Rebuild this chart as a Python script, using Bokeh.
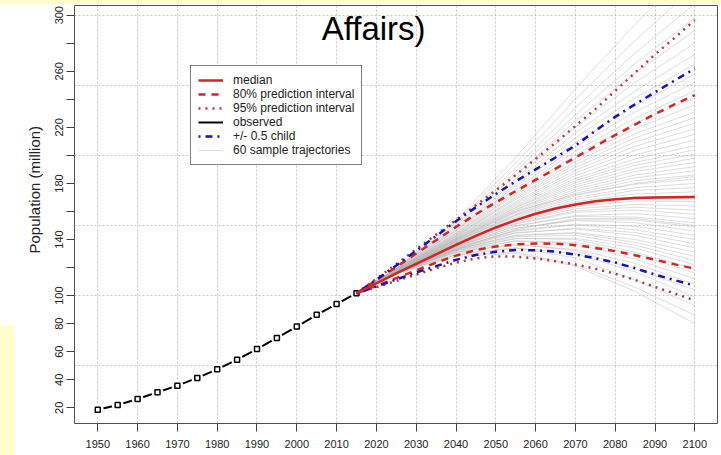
import math
from bokeh.plotting import figure
from bokeh.models import Range1d, FixedTicker, Label, Legend, LegendItem, Div, Title
from bokeh.layouts import column, row
from bokeh.embed import file_html
from bokeh.resources import INLINE

FONT = "Liberation Sans"

# ---------------- data ----------------
obs_years = [1950, 1955, 1960, 1965, 1970, 1975, 1980, 1985, 1990, 1995, 2000, 2005, 2010, 2015]
obs_pop = [18.6, 22.0, 26.3, 31.1, 35.8, 41.3, 47.4, 54.3, 61.9, 69.8, 77.9, 86.3, 94.0, 101.7]

proj_years = [2015, 2020, 2025, 2030, 2035, 2040, 2045, 2050, 2055, 2060,
              2065, 2070, 2075, 2080, 2085, 2090, 2095, 2100]
median = [101.7, 108.8, 115.8, 122.6, 129.4, 136.2, 142.6, 148.6, 153.8, 158.4,
          162.1, 165.0, 167.3, 168.8, 169.6, 170.0, 170.2, 170.3]
upper80 = [101.7, 111.0, 120.5, 130.0, 139.5, 149.0, 158.0, 166.5, 174.5, 182.5,
           190.5, 198.5, 206.5, 214.5, 222.0, 229.5, 236.5, 243.0]
lower80 = [101.7, 107.0, 112.5, 118.0, 123.5, 128.5, 132.5, 135.0, 136.5, 137.2,
           137.0, 136.0, 134.0, 131.7, 128.8, 125.6, 122.3, 119.2]
upper95 = [101.7, 112.0, 122.5, 133.0, 143.5, 154.0, 164.5, 175.0, 186.0, 197.5,
           209.0, 221.0, 233.0, 246.0, 259.0, 272.0, 284.0, 296.5]
lower95 = [101.7, 106.0, 110.5, 115.0, 119.5, 123.5, 126.5, 128.0, 127.8, 126.5,
           124.6, 122.2, 119.2, 115.6, 111.2, 106.2, 101.4, 96.5]
child_up = [101.7, 111.5, 121.5, 132.0, 142.5, 153.0, 163.0, 172.5, 181.5, 190.0,
            198.5, 207.0, 217.5, 227.5, 236.5, 245.0, 253.5, 262.0]
child_lo = [101.7, 106.5, 111.5, 116.5, 121.0, 125.5, 129.0, 131.3, 132.5, 132.4,
            131.3, 129.3, 126.7, 123.6, 119.5, 115.0, 111.0, 107.0]

# 60 sample trajectories (values at 2025, 2040, 2055, 2070, 2085, 2100; all start at 2015 observed)
traj_years = [2015, 2025, 2040, 2055, 2070, 2085, 2100]
traj_rows = [
    [115.5, 128, 130, 121, 103, 80],
    [116, 129, 131, 122, 106, 86],
    [115.5, 130, 134, 127, 111, 93],
    [116.5, 129, 134, 130, 117, 99],
    [116, 131, 137, 132, 119, 104],
    [117, 131, 136, 133, 123, 108],
    [116, 132, 139, 137, 126, 112],
    [116.5, 131, 139, 138, 130, 116],
    [116, 132, 141, 140, 131, 119],
    [117, 132.5, 140.5, 141, 134, 122],
    [116.5, 133, 142, 143, 136, 125],
    [116, 133, 143, 144.5, 138, 128],
    [117, 133, 143, 145, 140, 131],
    [116.5, 134, 145, 147.5, 143, 134],
    [117, 133.5, 144.5, 148, 145, 137],
    [116.5, 134.5, 146, 150.5, 147, 140],
    [117, 134, 146.5, 151, 149.5, 143],
    [116.5, 135, 148, 153.5, 152, 146],
    [117, 135, 148, 154, 154, 149],
    [116.5, 135.5, 149.5, 156.5, 156, 152],
    [117, 135, 150, 157, 158.5, 155],
    [117, 136, 151, 159.5, 161, 158],
    [117, 136, 151.5, 160.5, 163, 161],
    [117, 136.5, 152.5, 162, 165, 164],
    [117, 136.5, 153, 163.5, 167.5, 167],
    [117, 137, 154, 164.5, 169, 169],
    [117, 137, 154, 165.5, 170.5, 171],
    [117, 137.5, 155, 167, 172.5, 174],
    [117.5, 137.5, 156, 168.5, 175, 177],
    [117, 138, 157, 170, 177, 180],
    [117.5, 138.5, 157.5, 171.5, 179.5, 183],
    [117, 138.5, 158, 173, 182, 186],
    [117.5, 139, 159, 174.5, 184, 189],
    [117, 139, 160, 176, 186, 192],
    [117.5, 139.5, 161, 177.5, 188.5, 195],
    [117.5, 140, 161.5, 179, 190.5, 198],
    [117.5, 140, 162.5, 180.5, 193, 201],
    [118, 140.5, 163, 182, 195, 204],
    [117.5, 141, 164, 183.5, 197.5, 207],
    [118, 141, 165, 185.5, 200.5, 211],
    [117.5, 141.5, 166, 187.5, 203.5, 215],
    [118, 142, 167, 189.5, 206.5, 219],
    [118, 142.5, 168.5, 191.5, 209.5, 223],
    [118, 142.5, 169.5, 193.5, 212.5, 227],
    [118, 143, 170.5, 195.5, 215.5, 231],
    [118.5, 143.5, 172, 198, 219, 236],
    [118, 144, 173, 200.5, 223, 241],
    [118.5, 144.5, 174.5, 203, 226.5, 246],
    [118, 145, 176, 206, 231, 252],
    [118.5, 146, 178, 209, 235.5, 258],
    [118.5, 146.5, 179.5, 212.5, 241, 265],
    [118.5, 147, 181.5, 216, 246, 272],
    [119, 148, 183.5, 220, 252, 280],
    [119, 149, 186, 224.5, 259, 289],
    [119, 150, 188.5, 229, 265.5, 298],
    [119, 151, 191, 234, 273, 308],
    [119.5, 152, 194.5, 240, 282, 320],
    [119.5, 153.5, 198.5, 247.5, 293.5, 335],
    [116, 133, 147, 155, 155, 150],
    [118, 140, 160, 172, 180, 185],
]

x_ticks = [1950, 1960, 1970, 1980, 1990, 2000, 2010, 2020, 2030, 2040, 2050,
           2060, 2070, 2080, 2090, 2100]
y_ticks = [20, 40, 60, 80, 100, 120, 140, 160, 180, 200, 220, 240, 260, 280, 300]
y_hidden_labels = [120, 160, 200, 240, 280]
y_grid = [50, 100, 150, 200, 250, 300]

legend_labels = ["median", "80% prediction interval", "95% prediction interval",
                 "observed", "+/- 0.5 child", "60 sample trajectories"]

RED = "#d42424"
DOTRED = "#b03a3a"
BLUE = "#1414b4"
GRAY = "#b4b4b4"
YELLOW = "#fffdcc"

# ---------------- figure ----------------
p = figure(width=707, height=451, title=None,
           x_range=Range1d(1944.15, 2105.7), y_range=Range1d(8.8, 306.9),
           output_backend="svg", toolbar_location=None,
           min_border_left=60, min_border_right=4, min_border_top=1, min_border_bottom=32)

p.background_fill_color = "white"
p.border_fill_color = "white"
p.outline_line_color = "#505050"
p.outline_line_width = 1

# grid
p.xgrid.ticker = FixedTicker(ticks=x_ticks)
p.ygrid.ticker = FixedTicker(ticks=y_grid)
for g in (p.xgrid, p.ygrid):
    g.grid_line_color = "#c4c4c4"
    g.grid_line_dash = "2 2"
    g.grid_line_width = 1

# axes
p.xaxis.ticker = FixedTicker(ticks=x_ticks)
p.yaxis.ticker = FixedTicker(ticks=y_ticks)
p.yaxis.major_label_overrides = {v: "" for v in y_hidden_labels}
p.yaxis.major_label_orientation = "parallel"
for ax in (p.xaxis, p.yaxis):
    ax.axis_line_color = None
    ax.major_tick_out = 8
    ax.major_tick_in = 0
    ax.minor_tick_out = 0
    ax.minor_tick_in = 0
    ax.major_tick_line_color = "#404040"
    ax.major_label_text_font = FONT
    ax.major_label_text_font_size = "11px"
    ax.major_label_text_color = "#222222"
p.xaxis.major_label_standoff = 8
p.yaxis.major_label_standoff = 3

# y-axis title as a side title
ytitle = Title(text="Population (million)", align="left", offset=170,
               vertical_align="middle", text_font=FONT, text_font_size="15px",
               text_font_style="normal", text_color="#222222", standoff=18)
p.add_layout(ytitle, "left")

# sample trajectories
xs = [traj_years for _ in traj_rows]
ys = [[obs_pop[-1]] + r for r in traj_rows]
r_traj = p.multi_line(xs=xs, ys=ys, line_color=GRAY, line_alpha=0.45, line_width=1)

# observed (R type="b" look)
r_obs = p.line(obs_years, obs_pop, line_color="black", line_width=2)
p.scatter(obs_years, obs_pop, marker="circle", size=12, fill_color="white", line_color=None)
p.scatter(obs_years, obs_pop, marker="square", size=5, fill_color="white",
          line_color="black", line_width=1.5)

# intervals
r_u95 = p.line(proj_years, upper95, line_color=DOTRED, line_width=2.5, line_dash="2 5")
p.line(proj_years, lower95, line_color=DOTRED, line_width=2.5, line_dash="2 5")
r_u80 = p.line(proj_years, upper80, line_color=RED, line_width=2.5, line_dash="7 6")
p.line(proj_years, lower80, line_color=RED, line_width=2.5, line_dash="7 6")
r_cu = p.line(proj_years, child_up, line_color=BLUE, line_width=2.5, line_dash="2 5 7 5")
p.line(proj_years, child_lo, line_color=BLUE, line_width=2.5, line_dash="2 5 7 5")
r_med = p.line(proj_years, median, line_color=RED, line_width=2.5)

# legend
legend = Legend(items=[
    LegendItem(label=legend_labels[0], renderers=[r_med]),
    LegendItem(label=legend_labels[1], renderers=[r_u80]),
    LegendItem(label=legend_labels[2], renderers=[r_u95]),
    LegendItem(label=legend_labels[3], renderers=[r_obs]),
    LegendItem(label=legend_labels[4], renderers=[r_cu]),
    LegendItem(label=legend_labels[5], renderers=[r_traj]),
], location=(116, 258))
legend.label_text_font = FONT
legend.label_text_font_size = "12px"
legend.label_text_color = "#222222"
legend.glyph_width = 25
legend.glyph_height = 14
legend.label_height = 14
legend.label_standoff = 10
legend.spacing = 0
legend.padding = 7
legend.margin = 0
legend.border_line_color = "black"
legend.border_line_width = 1
legend.background_fill_color = "white"
legend.background_fill_alpha = 1
p.add_layout(legend)

# clipped slide title
p.add_layout(Label(x=2019.3, y=290.5, text="Affairs)", text_align="center",
                   text_baseline="alphabetic", text_font=FONT, text_font_size="33px",
                   text_color="black"))

# yellow slide background pieces around the chart
top_strip = Div(text="", width=721, height=4, margin=0,
                styles={"background-color": YELLOW})
left_white = Div(text="", width=14, height=321, margin=0,
                 styles={"background-color": "white"})
left_yellow = Div(text="", width=14, height=130, margin=0,
                  styles={"background-color": YELLOW})
layout = column(top_strip, row(column(left_white, left_yellow, spacing=0), p, spacing=0),
                spacing=0)

open("out.html", "w").write(file_html(layout, INLINE))
